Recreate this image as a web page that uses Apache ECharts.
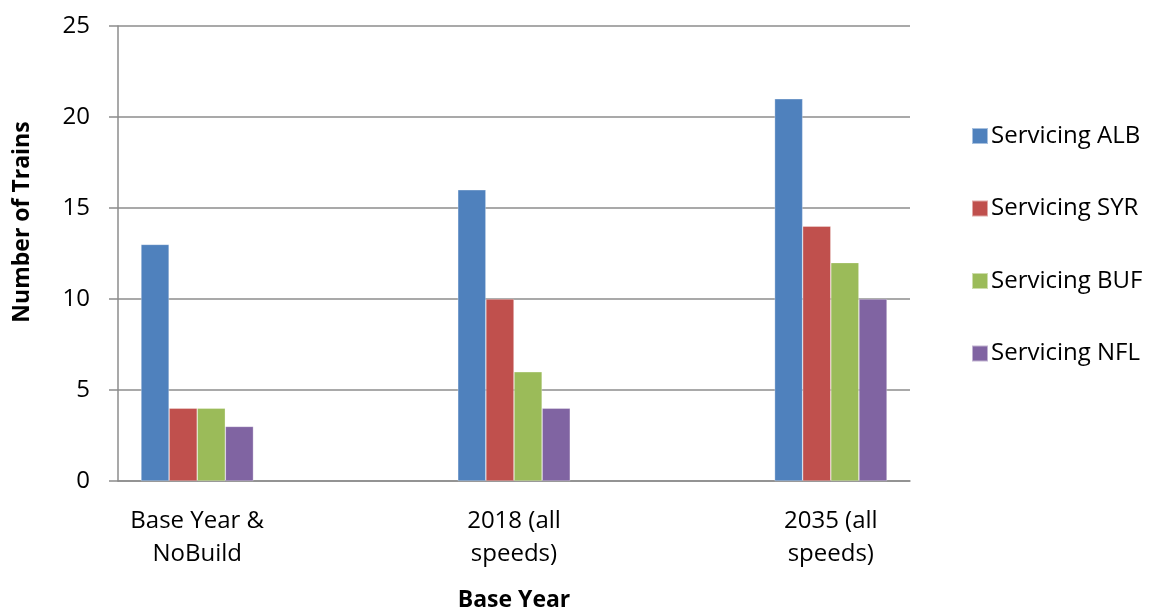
<!DOCTYPE html>
<html>
<head>
<meta charset="utf-8">
<script src="https://cdn.jsdelivr.net/npm/echarts@6/dist/echarts.min.js"></script>
<style>
  html, body { margin: 0; padding: 0; background: #fff; }
  #chart { width: 1156px; height: 612px; }
</style>
</head>
<body>
<div id="chart"></div>
<script>
// Scenario categories; blank slots keep the wide spacing between groups
var categories = ['Base Year &\nNoBuild', '', '2018 (all\nspeeds)', '', '2035 (all\nspeeds)'];
var seriesNames = ['Servicing ALB', 'Servicing SYR', 'Servicing BUF', 'Servicing NFL'];
var alb = [13, null, 16, null, 21];
var syr = [4, null, 10, null, 14];
var buf = [4, null, 6, null, 12];
var nfl = [3, null, 4, null, 10];
var yTicks = [0, 5, 10, 15, 20, 25];

var colors = ['#4F81BD', '#C0504D', '#9BBB59', '#8064A2'];
var font = 'Open Sans, Liberation Sans, sans-serif';
var values = [alb, syr, buf, nfl];

var chart = echarts.init(document.getElementById('chart'), null, { renderer: 'canvas' });

var series = seriesNames.map(function (name, i) {
  return {
    name: name,
    type: 'bar',
    data: values[i],
    barGap: '0%',
    barCategoryGap: '29%',
    itemStyle: { color: colors[i], borderColor: 'rgba(255,255,255,0.5)', borderWidth: 0.6 },
    z: 3
  };
});

chart.setOption({
  animation: false,
  color: colors,
  grid: { left: 118, right: 246, top: 26, bottom: 131, containLabel: false, outerBoundsMode: 'none' },
  legend: {
    orient: 'vertical',
    left: 966,
    top: 119,
    itemWidth: 16,
    itemHeight: 16,
    itemGap: 48.5,
    icon: 'rect',
    data: seriesNames,
    textStyle: { fontFamily: font, fontSize: 24, lineHeight: 24, color: '#000', padding: [0, 0, 0, -2] }
  },
  xAxis: {
    type: 'category',
    data: categories,
    name: 'Base Year',
    nameLocation: 'middle',
    nameGap: 108,
    nameTextStyle: { fontFamily: font, fontSize: 23, fontWeight: 'bold', color: '#000' },
    axisLine: { show: true, lineStyle: { color: '#8c8c8c', width: 1.5 } },
    axisTick: { show: false },
    axisLabel: {
      interval: 0,
      margin: 24,
      fontFamily: font,
      fontSize: 24,
      color: '#000',
      lineHeight: 33
    }
  },
  yAxis: {
    type: 'value',
    min: yTicks[0],
    max: yTicks[yTicks.length - 1],
    interval: 5,
    axisLine: { show: true, lineStyle: { color: '#8c8c8c', width: 1.5 } },
    axisTick: { show: true, length: 9, lineStyle: { color: '#8c8c8c', width: 1.5 } },
    axisLabel: { fontFamily: font, fontSize: 24, color: '#000', margin: 28 },
    splitLine: { show: true, lineStyle: { color: '#8c8c8c', width: 1.5 } }
  },
  graphic: [{
    type: 'text',
    x: 22,
    y: 222,
    rotation: Math.PI / 2,
    style: {
      text: 'Number of Trains',
      fontFamily: font,
      fontSize: 23,
      fontWeight: 'bold',
      fill: '#000',
      align: 'center',
      verticalAlign: 'middle'
    }
  }],
  series: series
});
</script>
</body>
</html>
